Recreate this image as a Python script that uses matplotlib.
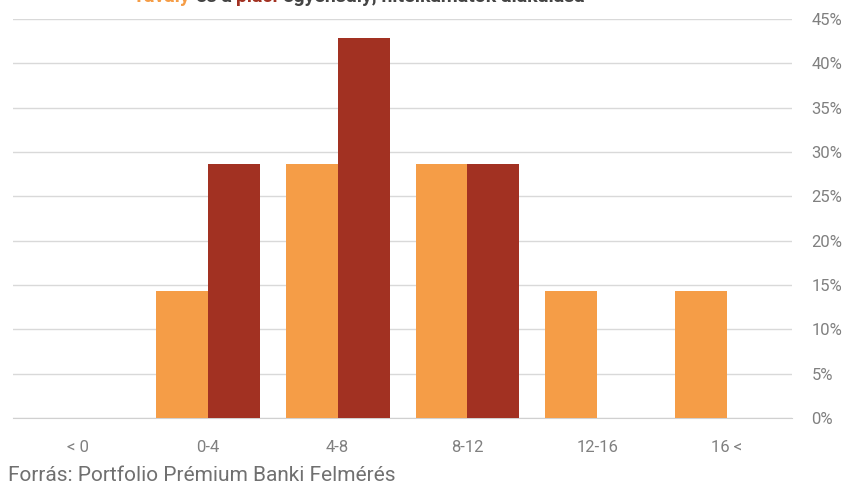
import numpy as np
import matplotlib
matplotlib.use("Agg")
import matplotlib.pyplot as plt
from matplotlib.ticker import PercentFormatter

categories = ["< 0", "0-4", "4-8", "8-12", "12-16", "16 <"]
series_a = [0.0, 14.3, 28.6, 28.6, 14.3, 14.3]
series_b = [0.0, 28.6, 42.9, 28.6, 0.0, 0.0]

title_parts = [("Tavaly", "#F59D47"), (" és a ", "#444444"), ("piaci", "#A23122"),
               (" egyensúly, hitelkamatok alakulása", "#444444")]

orange = "#F59D47"
red = "#A23122"
grey = "#808080"

plt.rcParams["font.family"] = ["Roboto", "DejaVu Sans"]

fig = plt.figure(figsize=(8.52, 4.87), dpi=100)
ax = fig.add_axes([0.0153, 0.1417, 0.9143, 0.8193])

x = np.arange(len(categories))
w = 0.4
ax.bar(x - w / 2, series_a, width=w, color=orange, zorder=3)
ax.bar(x + w / 2, series_b, width=w, color=red, zorder=3)

ax.set_xlim(-0.5, len(categories) - 0.5)
ax.set_ylim(0, 45)
ax.set_yticks(np.arange(0, 46, 5))
ax.yaxis.set_major_formatter(PercentFormatter(decimals=0))
ax.yaxis.tick_right()
ax.set_xticks(x)
ax.set_xticklabels(categories)
ax.grid(axis="y", color="#d9d9d9", linewidth=1, zorder=0)
for s in ["top", "left", "right"]:
    ax.spines[s].set_visible(False)
ax.spines["bottom"].set_color("#d0d0d0")
ax.tick_params(axis="both", length=0, labelsize=12, labelcolor=grey)
ax.tick_params(axis="y", pad=14)
ax.tick_params(axis="x", pad=16)

# title sits mostly above the canvas (cut off in the reference); chain coloured pieces
prev = None
for txt, col in title_parts:
    if prev is None:
        prev = ax.annotate(txt, xy=(133 / 852, 1 - 1.5 / 487), xycoords="figure fraction",
                           color=col, fontsize=14, fontweight="bold", va="baseline",
                           annotation_clip=False)
    else:
        prev = ax.annotate(txt, xy=(1, 0), xycoords=prev, color=col, fontsize=14,
                           fontweight="bold", va="bottom", annotation_clip=False)

fig.text(8 / 852, 6 / 487, "Forrás: Portfolio Prémium Banki Felmérés",
         color="#707070", fontsize=15)

fig.savefig("out.png", dpi=100)
